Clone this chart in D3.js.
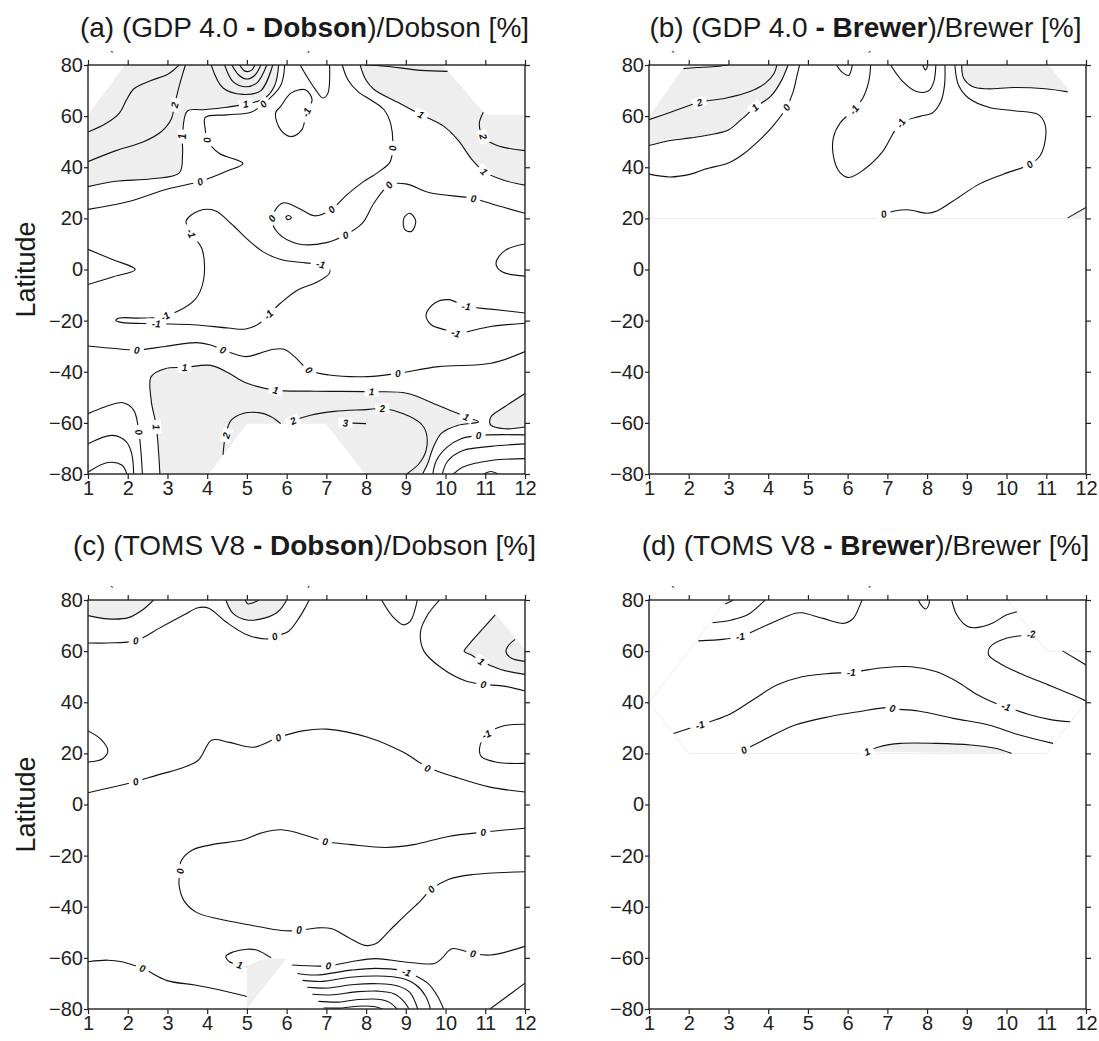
<!DOCTYPE html>
<html><head><meta charset="utf-8">
<script src="https://cdn.jsdelivr.net/npm/d3@7"></script>
<style>body{margin:0;background:#fff;} text{font-family:"Liberation Sans",Arial,sans-serif;}</style>
</head><body><svg id="c" width="1099" height="1041"></svg>
<script>
const monthTicks=[1,2,3,4,5,6,7,8,9,10,11,12];
const latTicks=[-80,-60,-40,-20,0,20,40,60,80];

// ---------- Panel (a) GDP 4.0 - Dobson ----------
const aOneTL=[[1,32.4],[1.7,34.5],[2.6,35.5],[3.3,37.8],[3.38,45],[3.38,52],[3.5,62],[3.9,62.5],[4.5,63.5],[4.97,64.7],[5.45,67],[5.7,72],[5.8,80]];
const aOneTR=[[7.85,80],[7.99,74.3],[8.2,70.4],[8.82,65.2],[9.38,60.6],[9.96,56],[10.31,50.7],[10.67,42.9],[10.97,38.3],[11.45,35],[12,33]];
const aOneS=[[2.81,-80],[2.72,-61.6],[2.59,-51.1],[2.59,-41.9],[2.94,-38.8],[3.43,-38.3],[4.09,-37.5],[4.53,-40.4],[4.97,-44.3],[5.72,-47.2],[6.7,-47.6],[8.14,-47.8],[9.02,-48.4],[9.82,-53.2],[10.52,-57.7],[10.83,-59.6],[10.3,-61],[9.9,-64],[9.68,-70],[9.55,-76],[9.42,-80]];
const aOneR=[[12,-48.5],[11.49,-53.7],[11.14,-57.7],[11.14,-60.9],[11.49,-62.3],[12,-61.6]];
const linesA=[
 {lv:3,pts:[[1,53.8],[1.44,57],[1.79,61.2],[1.97,66.4],[2.15,70.6],[2.59,73.9],[3.03,76.6],[3.29,80]]},
 {lv:2,pts:[[1,42.2],[1.7,46.5],[2.4,50],[2.85,54],[3.1,59],[3.18,64.4],[3.3,72],[3.45,80]],lab:[[3.18,64.4]]},
 {lv:1,pts:aOneTL,lab:[[3.38,52],[4.97,64.7]]},
 {lv:2,pts:[[4.1,80],[4.4,71],[4.9,68.5],[5.35,70],[5.65,80]]},
 {lv:3,pts:[[4.44,80],[4.65,73.5],[4.95,71.5],[5.25,73],[5.5,80]]},
 {lv:4,pts:[[4.62,80],[4.8,76],[5.0,74.5],[5.2,76],[5.35,80]]},
 {lv:5,pts:[[4.82,80],[4.95,77.6],[5.12,78],[5.2,80]]},
 {lv:0,pts:[[5.95,80],[5.85,72],[5.41,64.7],[5.1,61.5],[4.5,60.5],[3.95,59.5],[3.95,55],[4.0,50.7],[4.3,45.5],[4.9,41.5],[4.5,38.5],[3.82,34.4],[3,31.5],[2,26.5],[1,23.5]],lab:[[5.41,64.7],[4.0,50.7],[3.82,34.4]]},
 {lv:-1,closed:true,pts:[[5.85,63.8],[6.11,69],[6.47,70.3],[6.64,66.4],[6.5,61.5],[6.38,54.6],[6.11,52],[5.85,54.6],[5.72,61.2]],lab:[[6.5,61.5]]},
 {lv:-1,pts:[[6.34,80],[6.56,74.2],[6.73,70.3],[6.91,67.1],[7.04,69],[7.08,80]]},
 {lv:0,pts:[[7.4,80],[7.55,74],[7.8,69.5],[8.1,66.5],[8.45,62.5],[8.62,57],[8.67,47.5],[8.6,42],[8.3,38],[7.9,34],[7.5,29],[7.13,23.5],[6.7,21],[6.3,24],[5.9,26],[5.63,20],[5.8,14],[6.3,10],[7.0,10.5],[7.48,13.5],[7.9,18],[8.2,26],[8.58,33],[9.0,33.5],[9.6,30],[10.7,27.8],[11.3,25],[12,22]],lab:[[8.67,47.5],[7.13,23.5],[5.63,20],[7.48,13.5],[8.58,33],[10.7,27.8]]},
 {lv:1,pts:aOneTR,lab:[[9.38,60.6],[10.97,38.3]]},
 {lv:2,pts:[[7.97,80],[8.5,79.5],[9.38,77.9],[10.05,77.5]]},
 {lv:2,pts:[[10.95,61.5],[10.85,57],[10.95,52],[11.3,48.5],[12,46.5]],lab:[[10.95,52]]},
 {lv:0,closed:true,pts:[[5.98,20.5],[6.05,21.1],[6.12,20.3],[6.03,19.5]]},
 {lv:0,closed:true,pts:[[8.95,20],[9.1,22],[9.25,19],[9.15,15],[8.98,15.5]]},
 {lv:-1,closed:true,pts:[[3.47,19],[3.6,14.1],[3.87,8],[3.91,-4],[3.69,-11.8],[2.94,-18.3],[2.32,-19],[1.79,-19],[1.7,-19.9],[1.84,-20.7],[2.72,-21.2],[3.65,-21.6],[4.53,-22.9],[4.97,-23.3],[5.32,-21],[5.54,-17.7],[5.85,-13.1],[6.29,-7.9],[6.73,-5.2],[7.08,-1.3],[7.04,1.3],[6.86,2],[6.47,2.6],[5.85,3.9],[5.4,7],[5.0,12],[4.6,18],[4.2,23],[3.8,23]],lab:[[3.6,14.1],[2.94,-18.3],[2.72,-21.2],[5.54,-17.7],[6.86,2]]},
 {lv:-1,pts:[[1,7.9],[1.6,4],[2.19,0],[1.6,-3],[1,-5.9]]},
 {lv:-1,pts:[[12,10],[11.5,7.5],[11.27,2.6],[11.4,-0.7],[12,-2.6]]},
 {lv:-1,pts:[[12,-17],[11.14,-15.5],[10.52,-14.4],[10.08,-11.8],[9.73,-13.1],[9.51,-17.7],[9.64,-21.6],[9.99,-23.6],[10.26,-24.9],[11.14,-22.3],[12,-21]],lab:[[10.52,-14.4],[10.26,-24.9]]},
 {lv:0,pts:[[1,-29.9],[1.62,-30.8],[2.23,-31.5],[2.94,-30.1],[3.73,-28.6],[4.09,-29.5],[4.4,-31.5],[4.97,-34.1],[5.32,-32.8],[5.67,-31.2],[5.94,-31.2],[6.2,-34.1],[6.56,-39.3],[7.08,-41.3],[8.05,-41.9],[8.8,-40.6],[9.82,-38],[11.14,-36.7],[12,-32.1]],lab:[[2.23,-31.5],[4.4,-31.5],[6.56,-39.3],[8.8,-40.6]]},
 {lv:1,pts:aOneS,lab:[[2.72,-61.6],[3.43,-38.3],[5.72,-47.2],[8.14,-47.8],[10.52,-57.7]]},
 {lv:1,pts:aOneR},
 {lv:0,pts:[[1,-56.4],[1.44,-53.7],[1.88,-52.1],[2.15,-55],[2.28,-63.6],[2.37,-80]],lab:[[2.28,-63.6]]},
 {lv:-1,pts:[[1,-68.2],[1.62,-64.9],[1.97,-67.5],[2.1,-72],[2.15,-80]]},
 {lv:-2,pts:[[1,-79.3],[1.5,-75.5],[1.85,-76.5],[1.98,-80]]},
 {lv:2,pts:[[4.4,-72.5],[4.45,-66],[4.6,-59],[4.9,-56.3],[5.3,-56],[5.6,-57.5],[5.85,-60.3]],lab:[[4.48,-64.9]]},
 {lv:2,pts:[[6.02,-60.3],[6.16,-59.2],[6.6,-57],[7.2,-55.5],[8.0,-54.8],[8.41,-54.4],[8.94,-56.4],[9.38,-60.3],[9.51,-63.6],[9.51,-70.8],[9.33,-76],[9.02,-80]],lab:[[6.16,-59.2],[8.41,-54.4]]},
 {lv:3,pts:[[7.45,-60],[7.7,-60.1],[8.0,-60.3]],lab:[[7.48,-60]]},
 {lv:0,pts:[[12,-64.7],[10.83,-64.9],[10.39,-66.2],[10.04,-69.5],[9.77,-74.7],[9.68,-80]],lab:[[10.83,-64.9]]},
 {lv:-1,pts:[[12,-68.2],[11.14,-69.2],[10.44,-70.8],[10.05,-75],[9.92,-80]]},
 {lv:-2,pts:[[12,-74],[11.14,-74.7],[10.44,-77.3],[10.2,-80]]},
 {lv:-3,pts:[[10.96,-80],[11.14,-79],[11.32,-80]]}
];
const fillsA=[{pts:aOneTL,corners:[[1,80]]},{pts:aOneTR,corners:[[12,80]]},{pts:aOneS,corners:[]},{pts:aOneR,corners:[]}];
const masksA=[[[1,60.5],[1.93,80],[1,80]],[[9.93,80],[11.01,60.5],[12,60.5],[12,80]],[[4.04,-80],[5.01,-60.3],[6.99,-60.3],[7.97,-80]]];

// ---------- Panel (b) GDP 4.0 - Brewer ----------
const bOneTL=[[1,48.5],[1.44,50.2],[2.05,51.5],[2.66,53.1],[3.01,54.7],[3.32,58.6],[3.67,63.4],[4.06,67.7],[4.32,73.5],[4.5,80]];
const bOneTR=[[8.87,80],[8.92,74.8],[9.14,71.6],[9.49,70.7],[10.19,71.2],[10.97,70.7],[11.54,69.5]];
const bOneBR=[[11.54,20.2],[12,24.3]];
const linesB=[
 {lv:3,pts:[[1.87,78.6],[2.2,79],[2.6,79.3],[3.0,80]]},
 {lv:2,pts:[[1,58.6],[1.61,61.9],[2.27,65.4],[2.92,67],[3.54,69.6],[3.93,72.9],[4.15,76.8],[4.22,80]],lab:[[2.27,65.4]]},
 {lv:1,pts:bOneTL,lab:[[3.67,63.4]]},
 {lv:0,pts:[[1,37.3],[1.52,36.2],[2.05,37.3],[2.4,39.2],[3.01,41.8],[3.36,45],[3.8,50.9],[4.15,56.7],[4.46,63.4],[4.63,69.6],[4.72,75.5],[4.79,80]],lab:[[4.46,63.4]]},
 {lv:-1,pts:[[5.72,80],[5.86,77.2],[6.03,75.9],[6.09,78.1],[6.12,80]]},
 {lv:-1,pts:[[6.58,80],[6.53,73.5],[6.38,67],[6.16,62.5],[5.81,57.3],[5.64,51.5],[5.65,43.7],[5.81,37.9],[6.03,36],[6.42,39.2],[6.86,45.7],[7.34,57.3],[7.82,59.9],[8.13,61.2],[8.35,65.8],[8.44,72.2],[8.45,80]],lab:[[6.16,62.5],[7.34,57.3]]},
 {lv:-2,pts:[[7.08,80],[7.39,73.5],[7.74,69.6],[8.04,69.9],[8.17,73.5],[8.22,80]]},
 {lv:-3,pts:[[7.89,80],[7.96,78.1],[8.02,80]]},
 {lv:0,pts:[[8.7,80],[8.79,72.2],[9.05,67],[9.57,63.4],[10.19,62.1],[10.8,60.6],[10.97,56.7],[10.97,50.2],[10.84,44.4],[10.58,41.1],[9.92,37.3],[9.31,33.4],[8.79,28.2],[8.26,23],[8.0,22],[7.56,23.3],[7.21,23],[6.91,21.7]],lab:[[10.58,41.1],[6.91,21.7]]},
 {lv:1,pts:bOneTR},
 {lv:1,pts:bOneBR}
];
const fillsB=[{pts:bOneTL,corners:[[1,80]]},{pts:bOneTR,corners:[[12,69.5],[12,80]]},{pts:bOneBR,corners:[[12,20]]}];
const masksB=[[[1,60],[1.92,80],[1,80]],[[11.06,80],[12,62],[12,80]],[[1,20],[12,20],[12,-80],[1,-80]]];
const edgesB=[[[1,20],[12,20]]];

// ---------- Panel (c) TOMS V8 - Dobson ----------
const cOneTL=[[1,73.9],[1.5,72.6],[2.02,73.1],[2.37,76.1],[2.65,80]];
const cOneTop=[[4.47,80],[4.65,74.8],[5.0,72.2],[5.44,72.9],[5.79,75.5],[6.0,80]];
const cOneTR=[[11.25,74.2],[10.95,69],[10.55,61.9],[10.47,59.9],[10.64,58.6],[10.9,56],[11.39,52.8],[12,50.9]];
const linesC=[
 {lv:1,pts:cOneTL},
 {lv:0,pts:[[1,63.2],[1.5,63.2],[2.2,64.1],[2.81,69.1],[3.42,74.2],[3.77,77],[4.04,76.8],[4.47,71.5],[5.0,66.4],[5.52,64.8],[5.7,65.8],[6.05,67.8],[6.31,72.9],[6.48,77.4],[6.57,80]],lab:[[2.2,64.1],[5.7,65.8]]},
 {lv:1,pts:cOneTop},
 {lv:2,pts:[[4.96,80],[5.02,78.5],[5.2,79.2],[5.3,80]]},
 {lv:-1,pts:[[8.39,80],[8.67,73.5],[8.94,70.3],[9.11,71.6],[9.29,80]]},
 {lv:0,pts:[[9.85,80],[9.55,74.2],[9.37,67.7],[9.46,59.9],[9.9,53.4],[10.51,48.3],[10.95,47],[11.47,46.3],[12,44.4]],lab:[[10.95,47]]},
 {lv:1,pts:cOneTR,lab:[[10.9,56]]},
 {lv:2,pts:[[11.75,64.6],[11.6,62.5],[11.52,59.9],[11.65,57.3],[12,56]]},
 {lv:0,pts:[[1,28.8],[1.32,25.6],[1.5,21.1],[1.37,17.9],[1,16.6]]},
 {lv:0,pts:[[1,4.6],[2.2,9],[2.72,11.4],[3.3,14],[3.77,17.2],[4.12,25.2],[4.56,24.3],[5.17,22.4],[5.79,26.2],[6.4,28.8],[7.01,29.5],[8.06,26.2],[8.94,20.4],[9.55,14.6],[10.25,10.7],[11.12,6.8],[12,4.9]],lab:[[2.2,9],[5.79,26.2],[9.55,14.2]]},
 {lv:-1,pts:[[12,31.4],[11.47,30.8],[11.03,27.5],[10.86,22.4],[10.9,18.7],[11.3,16.5],[12,16.1]],lab:[[11.03,27.5]]},
 {lv:0,pts:[[12,-9.3],[10.95,-10.8],[10.07,-12.5],[9.2,-15.7],[8.5,-16.8],[7.62,-15.7],[6.97,-14.5],[6.57,-12.5],[5.87,-9.9],[5.35,-11.2],[4.91,-13.8],[4.12,-15.7],[3.64,-17.7],[3.34,-22.2],[3.32,-26.1],[3.29,-31.2],[3.42,-37.7],[3.73,-42.2],[4.3,-44.8],[5.17,-47.4],[5.87,-49.3],[6.31,-49.3],[6.75,-48.3],[7.14,-48.6],[7.54,-51.9],[7.97,-55.1],[8.24,-54.5],[8.59,-49.3],[9.02,-42.8],[9.37,-37.7],[9.64,-33.2],[10.07,-29.3],[10.69,-27.4],[12,-26.3]],lab:[[10.95,-10.8],[6.97,-14.5],[3.32,-26.1],[6.31,-49.3],[9.64,-33.2]]},
 {lv:0,pts:[[1,-61.5],[1.5,-60.9],[1.85,-61.5],[2.37,-64.1],[2.99,-68.9],[3.69,-70.6],[4.3,-72.5],[5.0,-75.1]],lab:[[2.37,-64.1]]},
 {lv:0,pts:[[6.14,-62.8],[7.05,-63.1],[7.62,-61.5],[8.24,-60.3],[8.94,-61.5],[9.72,-62.2],[9.9,-60.3],[10.16,-56.4],[10.69,-58.3],[11.12,-58.9],[12,-55.5]],lab:[[7.05,-63.1],[10.69,-58.3]]},
 {lv:1,pts:[[5.61,-60],[5.26,-57],[5.0,-56.6],[4.65,-57.7],[4.47,-59.4],[4.56,-61.5],[4.82,-62.8],[5.0,-63.5]],lab:[[4.82,-62.8]]},
 {lv:-1,pts:[[6.27,-66.1],[6.75,-66.7],[7.62,-64.8],[8.24,-64.1],[8.85,-64.8],[9.2,-66.7],[9.55,-69.9],[9.8,-75],[9.95,-80]],lab:[[9.02,-65.6]]},
 {lv:-2,pts:[[6.4,-68.8],[6.9,-69.2],[7.6,-67.6],[8.3,-67.1],[8.9,-68],[9.25,-70.5],[9.5,-75],[9.62,-80]]},
 {lv:-3,pts:[[6.52,-71.5],[7.0,-71.8],[7.7,-70.4],[8.3,-70.1],[8.8,-71],[9.1,-73.5],[9.3,-80]]},
 {lv:-4,pts:[[6.65,-74.2],[7.1,-74.5],[7.8,-73.2],[8.3,-73],[8.7,-74],[8.95,-77],[9.08,-80]]},
 {lv:-5,pts:[[6.8,-77],[7.3,-77.3],[7.8,-76.3],[8.3,-76.2],[8.6,-77.5],[8.78,-80]]},
 {lv:-6,pts:[[6.93,-79.6],[7.4,-79.6],[7.8,-78.9],[8.2,-79],[8.42,-80]]},
 {lv:-1,pts:[[11.12,-80],[12,-69.9]]}
];
const fillsC=[{pts:cOneTL,corners:[[1,80]]},{pts:cOneTop,corners:[]},{pts:cOneTR,corners:[[12,80],[11.1,80]]},{pts:[[5,-63.5],[5,-80],[6,-60.3],[5.62,-60.2],[5.3,-61],[5.1,-62.5]],corners:[],linear:true}];
const masksC=[[[10.98,80],[12,60.6],[12,80]],[[5,-80],[6,-60.3],[6.97,-80]]];

// ---------- Panel (d) TOMS V8 - Brewer ----------
const dOne=[[6.49,20.7],[6.8,22.6],[7.33,23.9],[8.22,23.9],[9.1,23.3],[9.72,22],[10.12,20]];
const linesD=[
 {lv:-1,pts:[[2.92,78.4],[3.13,80]]},
 {lv:-1,pts:[[2.6,71.1],[3.08,72.2],[3.48,74.2],[3.79,78],[3.92,80]]},
 {lv:-1,pts:[[2.24,64],[2.9,64.7],[3.3,65.7],[3.97,70.2],[4.68,74.8],[4.85,75],[5.38,72.8],[5.92,70.9],[6.14,72.8],[6.31,78],[6.36,80]],lab:[[3.3,65.7]]},
 {lv:-2,pts:[[7.78,80],[7.86,77.8],[7.97,76.5],[8.04,78],[8.06,80]]},
 {lv:-1,pts:[[8.62,80],[8.75,74.1],[9.02,69.6],[9.24,69.2],[9.64,70.9],[9.99,74.1],[10.26,75.4]]},
 {lv:-2,pts:[[10.62,66.6],[10.35,66],[9.99,65],[9.59,61.7],[9.55,58.5],[9.9,54.6],[10.43,50.7],[11.05,46.8],[11.67,42.8],[12,40.5]],lab:[[10.62,66.6]]},
 {lv:-2,pts:[[11.41,60.1],[12,54.6]]},
 {lv:-1,pts:[[1.62,27.8],[2.28,31.1],[2.99,35],[3.61,40.9],[4.23,46.8],[4.85,50],[5.56,51.3],[6.09,51.7],[6.89,53.5],[7.6,53.9],[8.22,52],[8.75,48.1],[9.28,42.8],[9.72,39.6],[9.99,38.3],[10.61,35],[11.14,33.1],[11.6,32.4]],lab:[[2.28,31.1],[6.09,51.7],[9.99,38.3]]},
 {lv:0,pts:[[3.39,21.3],[3.97,25.9],[4.68,31.1],[5.56,34.4],[6.27,36.3],[6.98,37.9],[7.13,37.4],[7.78,36.6],[8.66,33.7],[9.55,31.1],[10.26,27.5],[11.17,23.9]],lab:[[3.39,21.3],[7.13,37.6]]},
 {lv:1,pts:dOne,lab:[[6.49,20.7]]}
];
const fillsD=[{pts:dOne,corners:[]}];
const masksD=[[[1,40],[2,60],[2.95,80],[1,80]],[[10.03,80],[11,60],[12,60],[12,80]],[[1,40],[2,20],[11,20],[12,40],[12,-80],[1,-80]]];
const edgesD=[[[2.95,80],[2,60],[1,40],[2,20],[11,20],[12,40]],[[12,60],[11,60],[10.03,80]]];

const panels=[
 {id:"a",x0:88,x1:525,y0:65,y1:474,tY:37,title:["(a) (GDP 4.0 ","- Dobson",")/Dobson [%]"],lines:linesA,fills:fillsA,masks:masksA,edges:[],ylab:true},
 {id:"b",x0:649,x1:1086,y0:65,y1:474,tY:37,title:["(b) (GDP 4.0 ","- Brewer",")/Brewer [%]"],lines:linesB,fills:fillsB,masks:masksB,edges:edgesB,ylab:false},
 {id:"c",x0:88,x1:525,y0:600,y1:1009,tY:555,title:["(c) (TOMS V8 ","- Dobson",")/Dobson [%]"],lines:linesC,fills:fillsC,masks:masksC,edges:[],ylab:true},
 {id:"d",x0:649,x1:1086,y0:600,y1:1009,tY:555,title:["(d) (TOMS V8 ","- Brewer",")/Brewer [%]"],lines:linesD,fills:fillsD,masks:masksD,edges:edgesD,ylab:false}
];

const svg=d3.select("#c");
const defs=svg.append("defs");

function drawPanel(p){
  const x=d3.scaleLinear().domain([1,12]).range([p.x0,p.x1]);
  const y=d3.scaleLinear().domain([-80,80]).range([p.y1,p.y0]);
  defs.append("clipPath").attr("id","clip"+p.id).append("rect")
    .attr("x",p.x0).attr("y",p.y0).attr("width",p.x1-p.x0).attr("height",p.y1-p.y0);
  const g=svg.append("g");
  const body=g.append("g").attr("clip-path",`url(#clip${p.id})`);
  const lin=d3.line().x(d=>x(d[0])).y(d=>y(d[1]));
  const cur=d3.line().x(d=>x(d[0])).y(d=>y(d[1])).curve(d3.curveCatmullRom.alpha(0.5));
  const curC=d3.line().x(d=>x(d[0])).y(d=>y(d[1])).curve(d3.curveCatmullRomClosed.alpha(0.5));
  body.selectAll("path.fill").data(p.fills).join("path").attr("class","fill")
    .attr("d",f=>(f.linear?lin(f.pts):cur(f.pts))+f.corners.map(c=>`L${x(c[0])},${y(c[1])}`).join("")+"Z")
    .attr("fill","#eeeeee").attr("stroke","none");
  body.selectAll("path.mask").data(p.masks).join("path").attr("class","mask")
    .attr("d",m=>lin(m)+"Z").attr("fill","#fff").attr("stroke","none");
  body.selectAll("path.edge").data(p.edges).join("path").attr("class","edge")
    .attr("d",e=>lin(e)).attr("fill","none").attr("stroke","#ececec").attr("stroke-width",1);
  body.selectAll("path.ln").data(p.lines).join("path").attr("class","ln")
    .attr("d",l=>(l.closed?curC:cur)(l.pts)).attr("fill","none")
    .attr("stroke","#111").attr("stroke-width",1.1).attr("stroke-linejoin","round");
  const labs=[];
  p.lines.forEach(l=>{(l.lab||[]).forEach(pt=>{
    const px=x(pt[0]),py=y(pt[1]);
    let best=1e9,ang=0;
    for(let i=0;i<l.pts.length-1;i++){
      const ax=x(l.pts[i][0]),ay=y(l.pts[i][1]),bx=x(l.pts[i+1][0]),by=y(l.pts[i+1][1]);
      const dx=bx-ax,dy=by-ay,L2=dx*dx+dy*dy||1;
      let t=((px-ax)*dx+(py-ay)*dy)/L2;t=Math.max(0,Math.min(1,t));
      const qx=ax+t*dx-px,qy=ay+t*dy-py,d2=qx*qx+qy*qy;
      if(d2<best){best=d2;ang=Math.atan2(dy,dx)*180/Math.PI;}
    }
    if(ang>90)ang-=180; if(ang<-90)ang+=180;
    labs.push({x:px,y:py,a:ang,t:String(l.lv)});
  });});
  const lg=body.selectAll("g.lab").data(labs).join("g").attr("class","lab")
    .attr("transform",d=>`translate(${d.x},${d.y}) rotate(${d.a})`);
  lg.append("rect").attr("x",d=>-(d.t.length*3+4)).attr("y",-5)
    .attr("width",d=>d.t.length*6+8).attr("height",10).attr("fill","#fff");
  lg.append("text").attr("text-anchor","middle").attr("dy","0.36em")
    .attr("font-size",10).attr("font-weight","bold").attr("font-style","italic").attr("fill","#111").text(d=>d.t);
  const ax=g.append("g").attr("class","axes");
  const fmt=d3.format("d");
  ax.append("g").attr("transform",`translate(0,${p.y1})`)
    .call(d3.axisBottom(x).tickValues(monthTicks).tickSize(5).tickPadding(2).tickFormat(fmt));
  ax.append("g").attr("transform",`translate(0,${p.y0})`)
    .call(d3.axisTop(x).tickValues(monthTicks).tickSize(5).tickFormat(""));
  ax.append("g").attr("transform",`translate(${p.x0},0)`)
    .call(d3.axisLeft(y).tickValues(latTicks).tickSize(4).tickPadding(1).tickFormat(fmt));
  ax.append("g").attr("transform",`translate(${p.x1},0)`)
    .call(d3.axisRight(y).tickValues(latTicks).tickSize(5).tickFormat(""));
  ax.selectAll(".domain").remove();
  ax.selectAll(".tick line").attr("stroke","#222").attr("stroke-width",1.2);
  ax.selectAll(".tick text").attr("font-size",20).attr("fill","#222")
    .attr("font-family","'Liberation Sans',Arial,sans-serif");
  g.append("rect").attr("x",p.x0).attr("y",p.y0).attr("width",p.x1-p.x0).attr("height",p.y1-p.y0)
    .attr("fill","none").attr("stroke","#222").attr("stroke-width",1.4);
  g.append("text").attr("x",x(1.6)).attr("y",p.y0-4).attr("text-anchor","middle").attr("font-size",13).attr("fill","#333").text("ˋ");
  g.append("text").attr("x",x(6.55)).attr("y",p.y0-4).attr("text-anchor","middle").attr("font-size",13).attr("fill","#333").text("ˊ");
  const tt=g.append("text").attr("x",(p.x0+p.x1)/2-2).attr("y",p.tY).attr("text-anchor","middle")
    .attr("font-size",28).attr("fill","#1a1a1a");
  tt.append("tspan").text(p.title[0]);
  tt.append("tspan").attr("font-weight","bold").text(p.title[1]);
  tt.append("tspan").text(p.title[2]);
  if(p.ylab){
    g.append("text").attr("transform",`translate(35,${(p.y0+p.y1)/2}) rotate(-90)`)
      .attr("text-anchor","middle").attr("font-size",27).attr("fill","#1a1a1a").text("Latitude");
  }
}
panels.forEach(drawPanel);
</script>
</body></html>
